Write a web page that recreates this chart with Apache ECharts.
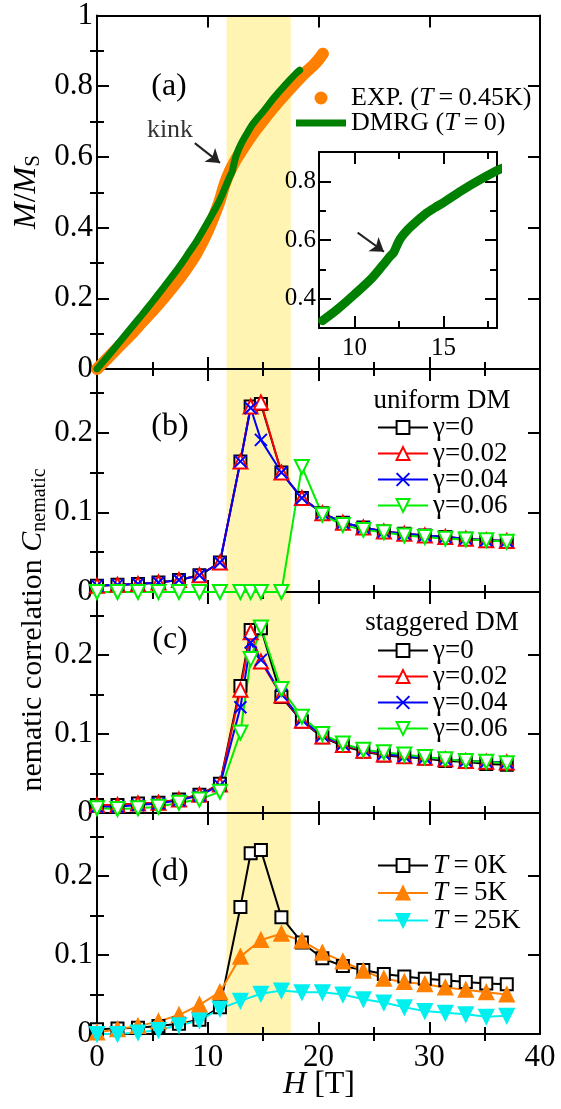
<!DOCTYPE html>
<html>
<head>
<meta charset="utf-8">
<script src="https://cdn.jsdelivr.net/npm/echarts@6/dist/echarts.min.js"></script>
<style>
  html, body { margin: 0; padding: 0; background: #fff; }
  #chart { width: 561px; height: 1109px; }
</style>
</head>
<body>
<div id="chart"></div>
<script>
  // field grid used by panels (b)-(d)
  var H = [0, 1.85, 3.7, 5.55, 7.4, 9.25, 11.1, 12.95, 13.875, 14.8, 16.65, 18.5,
           20.35, 22.2, 24.05, 25.9, 27.75, 29.6, 31.45, 33.3, 35.15, 37];

  // (a) magnetization curves
  var expH  = [0, 0.5, 1, 2, 3, 4, 5, 6, 7, 8, 9, 10, 11, 11.5, 12, 12.5, 13, 14, 15, 16, 17, 18, 18.8, 19.5, 20, 20.4];
  var expM  = [0, 0.016, 0.032, 0.064, 0.096, 0.13, 0.164, 0.2, 0.238, 0.28, 0.328, 0.39, 0.468, 0.52, 0.56, 0.59,
               0.615, 0.662, 0.703, 0.742, 0.778, 0.812, 0.838, 0.858, 0.875, 0.892];
  var dmrgH = [0, 1, 2, 3, 4, 5, 6, 7, 8, 8.2, 9, 10, 11, 11.6, 12.0, 12.2, 12.4, 12.6, 13, 13.5, 14, 14.5, 15, 16, 17, 18, 18.3];
  var dmrgM = [0, 0.037, 0.075, 0.113, 0.151, 0.19, 0.23, 0.271, 0.315, 0.325, 0.362, 0.415, 0.472, 0.515, 0.545, 0.558,
               0.585, 0.607, 0.636, 0.664, 0.69, 0.71, 0.728, 0.768, 0.804, 0.837, 0.845];

  // (b) uniform DM
  var bG0  = [0.008, 0.009, 0.010, 0.012, 0.015, 0.021, 0.037, 0.164, 0.233, 0.236, 0.150, 0.118, 0.099, 0.087, 0.081, 0.076, 0.073, 0.071, 0.069, 0.067, 0.065, 0.064];
  var bG02 = [0.008, 0.009, 0.010, 0.012, 0.015, 0.021, 0.037, 0.164, 0.233, 0.238, 0.150, 0.118, 0.099, 0.087, 0.081, 0.076, 0.073, 0.071, 0.069, 0.067, 0.065, 0.064];
  var bG04 = [0.008, 0.009, 0.010, 0.012, 0.015, 0.021, 0.037, 0.164, 0.231, 0.191, 0.150, 0.118, 0.099, 0.087, 0.081, 0.076, 0.073, 0.071, 0.069, 0.067, 0.065, 0.064];
  var bG06 = [0, 0, 0, 0, 0, 0, 0, 0, 0, 0, 0, 0.157, 0.097, 0.084, 0.078, 0.075, 0.071, 0.069, 0.067, 0.066, 0.065, 0.063];

  // (c) staggered DM
  var cG0  = [0.010, 0.010, 0.012, 0.013, 0.017, 0.023, 0.037, 0.161, 0.232, 0.234, 0.147, 0.116, 0.096, 0.085, 0.078, 0.073, 0.071, 0.069, 0.066, 0.065, 0.062, 0.061];
  var cG02 = [0.010, 0.010, 0.012, 0.013, 0.017, 0.023, 0.036, 0.156, 0.229, 0.192, 0.149, 0.117, 0.097, 0.086, 0.079, 0.074, 0.072, 0.070, 0.068, 0.066, 0.065, 0.064];
  var cG04 = [0.008, 0.008, 0.010, 0.012, 0.016, 0.022, 0.035, 0.134, 0.216, 0.194, 0.150, 0.118, 0.098, 0.087, 0.080, 0.075, 0.072, 0.070, 0.068, 0.066, 0.065, 0.064];
  var cG06 = [0.006, 0.005, 0.006, 0.008, 0.013, 0.017, 0.027, 0.102, 0.195, 0.235, 0.157, 0.122, 0.100, 0.088, 0.080, 0.077, 0.074, 0.071, 0.068, 0.066, 0.065, 0.063];

  // (d) temperature dependence (null = no point at that field)
  var dT0  = [0.006, 0.007, 0.008, 0.010, 0.013, 0.018, 0.034, 0.161, 0.229, 0.233, 0.148, 0.116, 0.096, 0.086, 0.081, 0.076, 0.073, 0.070, 0.068, 0.066, 0.064, 0.063];
  var dT5  = [0.002, 0.006, 0.010, 0.016, 0.024, 0.037, 0.053, 0.098, null, 0.119, 0.127, 0.118, 0.103, 0.092, 0.080, 0.070, 0.066, 0.063, 0.059, 0.056, 0.053, 0.050];
  var dT25 = [0.000, 0.000, 0.002, 0.005, 0.011, 0.017, 0.032, 0.042, null, 0.051, 0.055, 0.053, 0.053, 0.050, 0.044, 0.040, 0.034, 0.029, 0.027, 0.025, 0.022, 0.023];

  // shaded field range
  var band = [11.7, 17.5];

  var FONT = 'Liberation Serif';
  var TS = '\u2009';  // thin space around "="
  var chart = echarts.init(document.getElementById('chart'));

  function pairs(xs, ys) {
    return xs.map(function (x, i) { return [x, ys[i]]; }).filter(function (p) { return p[1] !== null; });
  }

  var xAxes = [], yAxes = [];
  // one major axis (line, long ticks, labels) + one minor axis (short ticks) per side
  function addAxes(list, grid, pos, r, labels, fontSize, margin) {
    var first = list.length;
    list.push({
      type: 'value', gridIndex: grid, position: pos, min: r.min, max: r.max, z: 2,
      splitLine: { show: false },
      axisLine: { show: true, onZero: false, lineStyle: { color: '#000', width: 2 } },
      axisTick: { show: true, inside: true, length: 12, customValues: r.major, lineStyle: { color: '#000', width: 2 } },
      axisLabel: labels ? { show: true, customValues: labels, fontFamily: FONT, fontSize: fontSize, color: '#000', margin: margin } : { show: false }
    });
    list.push({
      type: 'value', gridIndex: grid, position: pos, min: r.min, max: r.max, z: 2,
      splitLine: { show: false },
      axisLine: { show: false },
      axisTick: { show: true, inside: true, length: 7, customValues: r.minor, lineStyle: { color: '#000', width: 2 } },
      axisLabel: { show: false }
    });
    return first;
  }

  var xr  = { min: 0, max: 40, major: [10, 20, 30], minor: [5, 15, 25, 35] };
  var yrA = { min: 0, max: 1, major: [0.2, 0.4, 0.6, 0.8], minor: [0.1, 0.3, 0.5, 0.7, 0.9] };
  var yrC = { min: 0, max: 0.28, major: [0.1, 0.2], minor: [0.05, 0.15, 0.25] };
  var xrI = { min: 8, max: 18, major: [10, 15], minor: [12.5, 17.5] };
  var yrI = { min: 0.3, max: 0.9, major: [0.4, 0.6, 0.8], minor: [0.5, 0.7] };

  var grids = [
    { left: 97, top: 14, width: 443, height: 355 },
    { left: 97, top: 369, width: 443, height: 223 },
    { left: 97, top: 592, width: 443, height: 221 },
    { left: 97, top: 813, width: 443, height: 221 },
    { left: 319, top: 152, width: 178, height: 176 }
  ];

  var ax = [];
  for (var g = 0; g < 4; g++) {
    var yr = g === 0 ? yrA : yrC;
    var yl = g === 0 ? [0, 0.2, 0.4, 0.6, 0.8, 1] : [0, 0.1, 0.2];
    var xi = addAxes(xAxes, g, 'bottom', xr, g === 3 ? [0, 10, 20, 30, 40] : null, 31, 8);
    addAxes(xAxes, g, 'top', xr, null);
    var yi = addAxes(yAxes, g, 'left', yr, yl, 31, 4);
    addAxes(yAxes, g, 'right', yr, null);
    ax.push([xi, yi]);
  }
  var ixi = addAxes(xAxes, 4, 'bottom', xrI, [10, 15], 25, 8);
  addAxes(xAxes, 4, 'top', xrI, null);
  var iyi = addAxes(yAxes, 4, 'left', yrI, [0.4, 0.6, 0.8], 25, 3);
  addAxes(yAxes, 4, 'right', yrI, null);
  ax.push([ixi, iyi]);

  var bandArea = {
    silent: true, z: 1,
    itemStyle: { color: '#fff4b2' },
    data: [[{ xAxis: band[0] }, { xAxis: band[1] }]]
  };

  var CROSS = 'path://M0,0L10,10M10,0L0,10';
  var sty = {
    g0:  { color: '#000000', symbol: 'emptyRect', symbolSize: 12 },
    g02: { color: '#ff0000', symbol: 'emptyTriangle', symbolSize: 14 },
    g04: { color: '#0000ff', symbol: CROSS, symbolSize: 12 },
    g06: { color: '#00ee00', symbol: 'emptyTriangle', symbolSize: 14, symbolRotate: 180 },
    t0:  { color: '#000000', symbol: 'emptyRect', symbolSize: 12 },
    t5:  { color: '#ff8000', symbol: 'triangle', symbolSize: 14 },
    t25: { color: '#00f0f0', symbol: 'triangle', symbolSize: 14, symbolRotate: 180 }
  };

  function ser(name, panel, ys, s, extra) {
    var o = {
      name: name, type: 'line', xAxisIndex: ax[panel][0], yAxisIndex: ax[panel][1], z: 3,
      data: pairs(H, ys),
      symbol: s.symbol, symbolSize: s.symbolSize, symbolRotate: s.symbolRotate || 0,
      showAllSymbol: true,
      lineStyle: { color: s.color, width: 2 },
      itemStyle: { color: s.color, borderColor: s.color, borderWidth: 2 }
    };
    return Object.assign(o, extra || {});
  }

  var arrowLine = {
    silent: true, symbol: ['none', 'arrow'], symbolSize: 13,
    label: { show: false },
    lineStyle: { color: '#222', width: 2, type: 'solid' }
  };

  var series = [
    {
      name: 'EXP.', type: 'line', xAxisIndex: ax[0][0], yAxisIndex: ax[0][1], z: 3,
      data: pairs(expH, expM), showSymbol: false, smooth: 0.3,
      lineStyle: { color: '#ff8000', width: 12, cap: 'round' },
      itemStyle: { color: '#ff8000' },
      markArea: bandArea
    },
    {
      name: 'DMRG', type: 'line', xAxisIndex: ax[0][0], yAxisIndex: ax[0][1], z: 4,
      data: pairs(dmrgH, dmrgM), showSymbol: false, smooth: 0.3,
      lineStyle: { color: '#008000', width: 7, cap: 'round' },
      itemStyle: { color: '#008000' },
      markLine: Object.assign({ data: [[{ coord: [8.83, 0.639] }, { coord: [11.1, 0.583] }]] }, arrowLine)
    },
    {
      name: 'DMRG inset', type: 'line', xAxisIndex: ax[4][0], yAxisIndex: ax[4][1], z: 4,
      data: pairs(dmrgH, dmrgM).filter(function (p) { return p[0] >= 8.2; }),
      showSymbol: false, smooth: 0.3,
      lineStyle: { color: '#008000', width: 9, cap: 'round' },
      itemStyle: { color: '#008000' },
      markLine: Object.assign({ data: [[{ coord: [10.17, 0.625] }, { coord: [11.65, 0.56] }]] }, arrowLine)
    },
    ser('γ=0', 1, bG0, sty.g0, { markArea: bandArea }),
    ser('γ=0.02', 1, bG02, sty.g02),
    ser('γ=0.04', 1, bG04, sty.g04),
    ser('γ=0.06', 1, bG06, sty.g06),
    ser('γ=0', 2, cG0, sty.g0, { markArea: bandArea }),
    ser('γ=0.02', 2, cG02, sty.g02),
    ser('γ=0.04', 2, cG04, sty.g04),
    ser('γ=0.06', 2, cG06, sty.g06),
    ser('T=0K', 3, dT0, sty.t0, { markArea: bandArea }),
    ser('T=5K', 3, dT5, sty.t5),
    ser('T=25K', 3, dT25, sty.t25)
  ];

  function richSet(size) {
    return {
      n: { fontFamily: FONT, fontSize: size, color: '#000', lineHeight: 20 },
      i: { fontFamily: FONT, fontSize: size, color: '#000', lineHeight: 20, fontStyle: 'italic' }
    };
  }

  var legends = [
    {
      left: 296, top: 85, padding: 0, orient: 'vertical', selectedMode: false,
      itemWidth: 50, itemHeight: 13, itemGap: -1,
      data: [{ name: 'EXP.', icon: 'circle' }, { name: 'DMRG', icon: 'path://M0,0h50v7h-50z' }],
      formatter: function (name) {
        return name === 'DMRG' ? '{n|DMRG (}{i|T}{n|' + TS + '=' + TS + '0)}'
                               : '{n|EXP. (}{i|T}{n|' + TS + '=' + TS + '0.45K)}';
      },
      textStyle: { fontFamily: FONT, fontSize: 26, color: '#000', lineHeight: 20, rich: richSet(26) }
    },
    {
      left: 377, top: 414, padding: 0, orient: 'vertical', selectedMode: false,
      itemWidth: 50, itemHeight: 16, itemGap: -1,
      data: ['γ=0', 'γ=0.02', 'γ=0.04', 'γ=0.06'],
      textStyle: { fontFamily: FONT, fontSize: 27, color: '#000', lineHeight: 20 }
    },
    {
      left: 377, top: 637, padding: 0, orient: 'vertical', selectedMode: false,
      itemWidth: 50, itemHeight: 16, itemGap: -1,
      data: ['γ=0', 'γ=0.02', 'γ=0.04', 'γ=0.06'],
      textStyle: { fontFamily: FONT, fontSize: 27, color: '#000', lineHeight: 20 }
    },
    {
      left: 377, top: 852, padding: 0, orient: 'vertical', selectedMode: false,
      itemWidth: 50, itemHeight: 16, itemGap: 0.5,
      data: ['T=0K', 'T=5K', 'T=25K'],
      formatter: function (name) { return '{i|T}{n|' + TS + '=' + TS + name.split('=')[1] + '}'; },
      textStyle: { fontFamily: FONT, fontSize: 27, color: '#000', lineHeight: 20, rich: richSet(27) }
    }
  ];

  function label(text, x, y, size, color) {
    return {
      type: 'text', x: x, y: y, z: 10, silent: true,
      style: { text: text, fontFamily: FONT, fontSize: size, fill: color || '#000', align: 'center', verticalAlign: 'middle' }
    };
  }

  var graphics = [
    label('(a)', 169, 87, 32),
    label('(b)', 170, 427, 32),
    label('(c)', 170, 640, 32),
    label('(d)', 170, 872, 32),
    label('kink', 170, 130, 26, '#333'),
    label('uniform DM', 442, 401, 27),
    label('staggered DM', 442, 623, 27),
    {
      type: 'text', x: 27, y: 192, rotation: Math.PI / 2, silent: true,
      style: {
        text: '{i|M}{n|/}{i|M}{s|S}', align: 'center', verticalAlign: 'middle',
        rich: {
          i: { fontFamily: FONT, fontSize: 32, fontStyle: 'italic', fill: '#000', lineHeight: 34 },
          n: { fontFamily: FONT, fontSize: 32, fill: '#000', lineHeight: 34 },
          s: { fontFamily: FONT, fontSize: 21, fill: '#000', lineHeight: 14, verticalAlign: 'bottom' }
        }
      }
    },
    {
      type: 'text', x: 33, y: 630, rotation: Math.PI / 2, silent: true,
      style: {
        text: '{n|nematic correlation }{i|C}{s|nematic}', align: 'center', verticalAlign: 'middle',
        rich: {
          i: { fontFamily: FONT, fontSize: 30, fontStyle: 'italic', fill: '#000', lineHeight: 34 },
          n: { fontFamily: FONT, fontSize: 30, fill: '#000', lineHeight: 34 },
          s: { fontFamily: FONT, fontSize: 20, fill: '#000', lineHeight: 14, verticalAlign: 'bottom' }
        }
      }
    },
    {
      type: 'text', x: 319, y: 1085, silent: true,
      style: {
        text: '{i|H}{n| [T]}', align: 'center', verticalAlign: 'middle',
        rich: {
          i: { fontFamily: FONT, fontSize: 32, fontStyle: 'italic', fill: '#000' },
          n: { fontFamily: FONT, fontSize: 32, fill: '#000' }
        }
      }
    }
  ];

  chart.setOption({
    animation: false,
    backgroundColor: '#fff',
    grid: grids,
    xAxis: xAxes,
    yAxis: yAxes,
    legend: legends,
    graphic: graphics,
    series: series
  });
</script>
</body>
</html>
